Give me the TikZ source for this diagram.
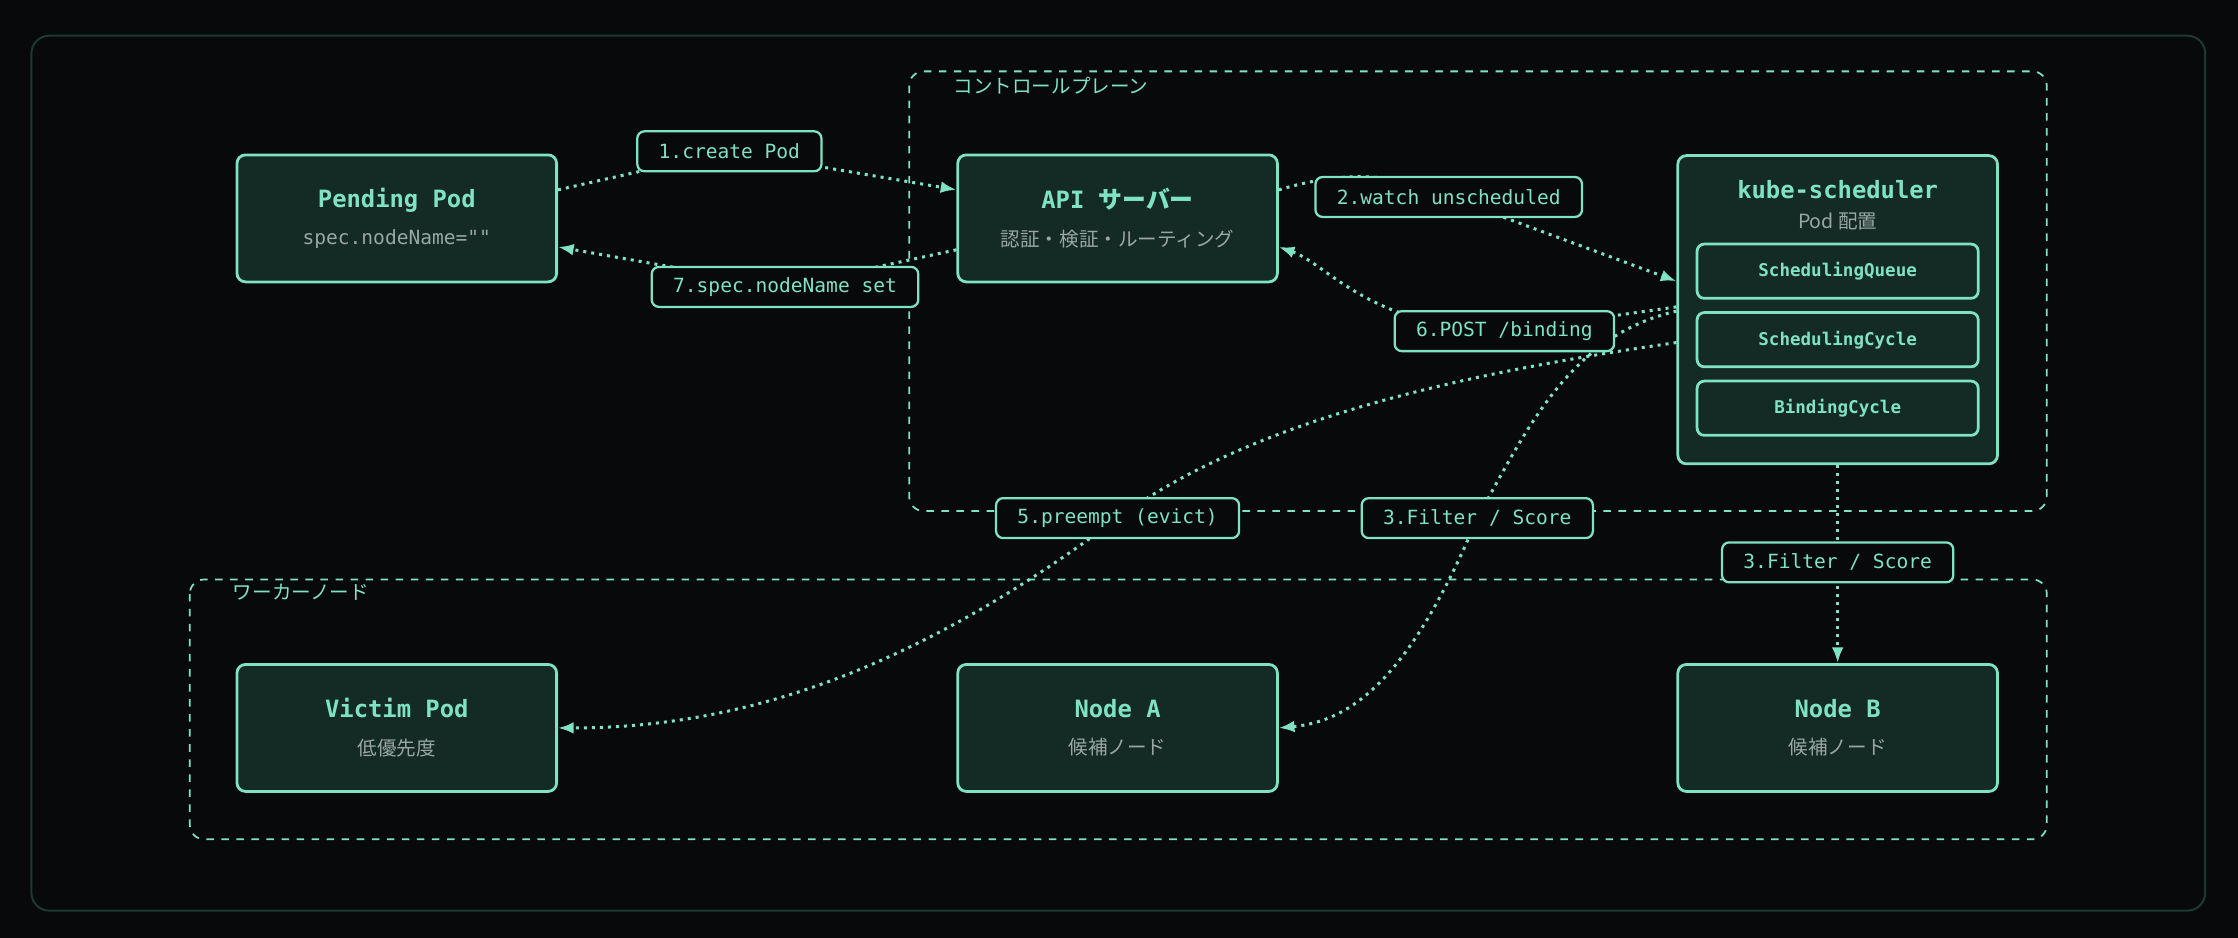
\documentclass[tikz,border=0pt]{standalone}
\usepackage{fontspec}
\setmainfont{DejaVu Sans}
\setmonofont{DejaVu Sans Mono}
\newfontfamily\jp{Noto Sans CJK JP}
\usetikzlibrary{calc,arrows.meta}
\definecolor{bgc}{HTML}{07090B}
\definecolor{frame}{HTML}{1D3A32}
\definecolor{mint}{HTML}{7EE2C3}
\definecolor{boxfill}{HTML}{142A25}
\definecolor{subgray}{HTML}{9AA7A3}
\pgfdeclarelayer{bg}
\pgfdeclarelayer{edges}
\pgfsetlayers{bg,edges,main}
\tikzset{
	compbox/.style={draw=mint, fill=boxfill, line width=1.1pt, rounded corners=0.12cm,
		minimum width=4.48cm, minimum height=1.78cm, align=center},
	stagebox/.style={draw=mint, fill=boxfill, line width=1.1pt, rounded corners=0.1cm,
		minimum width=3.94cm, minimum height=0.76cm, font=\ttfamily\bfseries\fontsize{7}{8}\selectfont, text=mint},
	edgelabel/.style={draw=mint, fill=bgc, line width=0.9pt, rounded corners=0.1cm,
		minimum height=0.56cm, inner xsep=0.3cm, font=\ttfamily\fontsize{7.8}{9}\selectfont, text=mint},
	zone/.style={draw=mint, dashed, line width=0.7pt, rounded corners=0.2cm},
	flow/.style={draw=mint, line width=1.2pt, dotted, -{Latex[length=2.2mm]}},
}
\newcommand{\ttl}[1]{{\ttfamily\bfseries\fontsize{9.5}{12}\selectfont\color{mint}#1}}
\newcommand{\subt}[1]{{\fontsize{7.8}{10}\selectfont\color{subgray}#1}}

\begin{document}
\begin{tikzpicture}[x=0.02cm, y=-0.02cm]
	\begin{pgfonlayer}{bg}
		\fill[bgc] (0,0) rectangle (1568,657);
		\draw[frame, fill=bgc, line width=0.8pt, rounded corners=0.25cm] (22,25) rectangle (1545,638);
		\draw[zone] (637,50) rectangle (1434,358);
		\draw[zone] (133,406) rectangle (1434,588);
	\end{pgfonlayer}
	\useasboundingbox (0,0) rectangle (1568,657);

	\node[anchor=west, text=mint, font=\jp\fontsize{7.8}{9}\selectfont] (cplabel) at (662,60) {コントロールプレーン};
	\node[anchor=west, text=mint, font=\jp\fontsize{7.8}{9}\selectfont] (wnlabel) at (157,415) {ワーカーノード};

	% components
	\node[compbox] (pp) at (278,153) {\ttl{Pending Pod}\\[3pt]\subt{\ttfamily spec.nodeName=""}};
	\node[compbox] (api) at (783,153) {\ttl{API {\jp サーバー}}\\[3pt]\subt{\jp 認証・検証・ルーティング}};
	\node[compbox, minimum height=4.32cm] (ks) at (1287.5,217) {};
	\node (kstitle) at (1287.5,133) {\ttl{kube-scheduler}};
	\node (kssub) at (1287.5,155) {\subt{\jp Pod 配置}};
	\node[stagebox] (q) at (1287.5,190) {SchedulingQueue};
	\node[stagebox] (sc) at (1287.5,238) {SchedulingCycle};
	\node[stagebox] (bc) at (1287.5,286) {BindingCycle};
	\node[compbox] (vp) at (278,510) {\ttl{Victim Pod}\\[3pt]\subt{\jp 低優先度}};
	\node[compbox] (na) at (783,510) {\ttl{Node A}\\[3pt]\subt{\jp 候補ノード}};
	\node[compbox] (nb) at (1287.5,510) {\ttl{Node B}\\[3pt]\subt{\jp 候補ノード}};

	% labels
	\node[edgelabel] (l1) at (511,106) {1.create Pod};
	\node[edgelabel] (l2) at (1015,138) {2.watch unscheduled};
	\node[edgelabel] (l7) at (550,201) {7.spec.nodeName set};
	\node[edgelabel] (l6) at (1054,232) {6.POST /binding};
	\node[edgelabel] (l5) at (783,363) {5.preempt (evict)};
	\node[edgelabel] (l3a) at (1035,363) {3.Filter / Score};
	\node[edgelabel] (l3b) at (1287.5,394) {3.Filter / Score};

	% flows
	\begin{pgfonlayer}{edges}
		\draw[flow] ($(pp.east)+(0,-20)$) -- (l1.center) -- ($(api.west)+(0,-20)$);
		\draw[flow] ($(api.east)+(0,-20)$) .. controls (940,120) and (975,120) .. (l2.center) -- ($(ks.west)+(0,-20)$);
		\draw[flow] ($(api.west)+(0,22)$) -- (l7.center) -- ($(pp.east)+(0,20)$);
		\draw[flow] ($(ks.west)+(0,-2)$) -- (l6.center) .. controls (960,230) and (930,185) .. ($(api.east)+(0,20)$);
		\draw[flow] ($(ks.west)+(0,23)$) .. controls (1000,265) and (870,300) .. (l5.center)
			.. controls (640,470) and (520,510) .. (vp.east);
		\draw[flow] ($(ks.west)+(0,1)$) .. controls (1100,235) and (1070,300) .. (l3a.center)
			.. controls (990,470) and (950,505) .. (na.east);
		\draw[flow] (ks.south) -- (l3b.center) -- (nb.north);
	\end{pgfonlayer}
\end{tikzpicture}
\end{document}
